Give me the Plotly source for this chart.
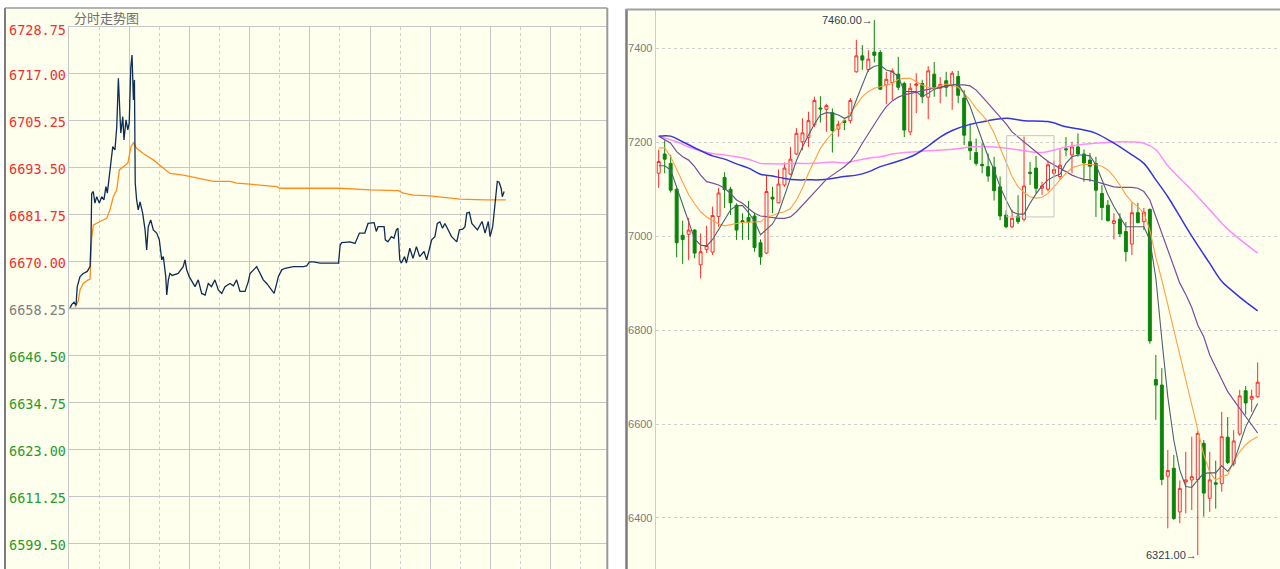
import plotly.graph_objects as go

W, H = 1280, 569

# ---------------- left panel: intraday (分时走势图) ----------------
minute = [0.5, 1.3, 2.5, 3.5, 4.1, 5.5, 7.1, 9.1, 10.5, 10.95,
          11.3, 12.1, 12.9, 13.8, 15.1, 16.3, 17.4, 18.4, 19.1, 20.4,
          21.8, 22.9, 23.8, 24.6, 25.1, 25.8, 26.8, 27.4, 28.4, 29.3,
          30.0, 30.8, 31.4, 32.1, 32.6, 33.0, 33.7, 34.5, 35.4, 36.7,
          37.9, 38.7, 39.5, 40.7, 42.0, 43.7, 45.0, 46.2, 47.0, 48.2,
          48.7, 49.5, 50.3, 51.4, 54.4, 56.9, 57.8, 58.6, 59.9, 61.6,
          62.8, 64.4, 66.1, 67.8, 69.4, 71.0, 72.7, 74.4, 76.1, 77.7,
          80.2, 81.9, 83.5, 85.2, 87.7, 89.3, 90.2, 93.5, 95.2, 96.8,
          98.5, 101.0, 102.2, 103.5, 104.3, 106.0, 107.6, 111.8, 116.8, 118.4,
          119.8, 121.8, 125.1, 128.4, 132.6, 134.3, 135.1, 135.9, 140.0, 142.5,
          144.7, 147.4, 149.0, 152.0, 153.1, 154.0, 157.0, 157.6, 158.9, 160.6,
          161.9, 163.1, 163.9, 164.8, 165.6, 167.2, 168.1, 169.8, 171.4, 173.1,
          174.7, 176.9, 178.2, 179.9, 180.7, 182.3, 183.5, 184.8, 186.1, 187.3,
          189.0, 190.6, 193.2, 194.5, 196.2, 197.3, 198.2, 199.5, 200.7, 202.3,
          203.5, 205.8, 207.3, 208.9, 209.8, 211.1, 211.8, 212.6, 213.4, 214.3,
          215.3, 215.9, 216.8]
price = [6658.3, 6659.2, 6659.8, 6659.0, 6663.7, 6666.2, 6667.0, 6667.5, 6668.7, 6675.4,
         6687.0, 6687.5, 6684.6, 6686.2, 6684.6, 6686.2, 6685.4, 6688.7, 6687.1, 6692.0,
         6698.7, 6697.9, 6703.7, 6715.8, 6710.4, 6702.1, 6706.2, 6700.4, 6705.4, 6702.9,
         6704.6, 6718.7, 6721.6, 6710.4, 6715.4, 6689.6, 6685.4, 6682.9, 6684.9, 6682.1,
         6677.9, 6672.9, 6678.7, 6680.4, 6677.9, 6677.1, 6675.4, 6670.4, 6671.2, 6666.2,
         6661.6, 6665.4, 6667.0, 6666.5, 6667.0, 6668.7, 6670.4, 6668.0, 6666.2, 6664.5,
         6663.7, 6665.4, 6662.0, 6661.6, 6664.5, 6663.7, 6665.4, 6662.9, 6662.0, 6663.7,
         6664.5, 6663.9, 6665.4, 6662.5, 6662.5, 6664.9, 6667.0, 6668.7, 6667.0, 6665.4,
         6664.5, 6662.9, 6662.0, 6664.5, 6666.2, 6667.9, 6668.3, 6668.7, 6668.7, 6668.9,
         6669.9, 6669.9, 6669.6, 6669.6, 6669.6, 6669.6, 6674.1, 6674.7, 6674.9, 6674.5,
         6677.1, 6677.1, 6679.5, 6679.7, 6677.5, 6678.7, 6678.7, 6675.4, 6674.9, 6676.2,
         6675.8, 6677.9, 6678.3, 6670.4, 6669.6, 6671.2, 6669.6, 6673.3, 6670.8, 6673.7,
         6671.2, 6672.5, 6670.4, 6673.7, 6675.4, 6676.2, 6679.5, 6679.9, 6678.3, 6679.5,
         6677.9, 6676.2, 6674.9, 6677.9, 6678.1, 6678.7, 6682.1, 6682.3, 6679.5, 6678.7,
         6677.9, 6680.0, 6677.1, 6680.0, 6676.2, 6678.7, 6682.1, 6687.1, 6690.0, 6689.8,
         6688.3, 6686.2, 6687.5]
avg_minute = [3.0, 4.6, 5.5, 7.1, 9.6, 10.5, 11.3, 12.1, 15.4, 18.8,
              20.4, 22.1, 23.8, 25.1, 27.1, 29.3, 30.9, 32.1, 33.7, 37.0,
              42.0, 46.2, 50.3, 57.0, 65.3, 71.9, 80.2, 83.6, 95.2, 103.5,
              105.1, 125.1, 135.1, 149.9, 164.1, 166.6, 171.6, 179.9, 186.5, 194.8,
              207.3, 217.6]
avg_price = [6658.5, 6660.1, 6662.9, 6664.5, 6665.4, 6665.6, 6675.8, 6679.1, 6680.0, 6680.8,
             6682.9, 6686.2, 6687.9, 6692.9, 6693.7, 6694.6, 6698.7, 6699.7, 6698.3, 6697.0,
             6695.4, 6693.7, 6692.0, 6691.6, 6690.8, 6690.0, 6690.0, 6689.6, 6689.1, 6688.7,
             6688.3, 6688.3, 6688.3, 6687.9, 6687.7, 6687.1, 6686.6, 6686.4, 6686.0, 6685.6,
             6685.4, 6685.4]
left_ticks = [6728.75, 6717.00, 6705.25, 6693.50, 6681.75, 6670.00,
              6658.25, 6646.50, 6634.75, 6623.00, 6611.25, 6599.50]
prev_close = 6658.25
left_title = "分时走势图"

# ---------------- right panel: daily K-line ----------------
opens = [7134, 7175, 7155, 7100, 7002, 7004, 7013, 6939, 6972, 6966,
         7042, 7125, 7100, 7066, 7033, 7040, 7043, 6986, 6964, 7083,
         7071, 7109, 7132, 7175, 7201, 7210, 7237, 7273, 7270, 7263,
         7228, 7246, 7246, 7350, 7384, 7355, 7392, 7391, 7322, 7327,
         7345, 7325, 7222, 7321, 7325, 7296, 7345, 7315, 7331, 7320,
         7340, 7294, 7201, 7178, 7153, 7148, 7147, 7105, 7045, 7020,
         7043, 7036, 7136, 7145, 7102, 7100, 7134, 7127, 7186, 7173,
         7190, 7175, 7162, 7155, 7091, 7066, 7027, 7036, 7010, 6983,
         7050, 7031, 7057, 6695, 6683, 6489, 6506, 6413, 6477, 6481,
         6482, 6559, 6442, 6475, 6473, 6572, 6515, 6579, 6671, 6653,
         6658]
highs = [7184, 7204, 7173, 7102, 7033, 7039, 7015, 7006, 7022, 7063,
         7103, 7136, 7105, 7070, 7049, 7075, 7050, 6993, 7128, 7105,
         7142, 7157, 7190, 7230, 7251, 7265, 7297, 7298, 7282, 7272,
         7246, 7251, 7294, 7418, 7407, 7396, 7460, 7396, 7350, 7357,
         7382, 7329, 7326, 7347, 7333, 7362, 7371, 7339, 7350, 7352,
         7352, 7311, 7240, 7208, 7198, 7176, 7169, 7127, 7055, 7056,
         7087, 7212, 7158, 7171, 7116, 7161, 7161, 7185, 7211, 7201,
         7219, 7185, 7177, 7169, 7109, 7077, 7049, 7049, 7030, 7071,
         7071, 7060, 7059, 6747, 6719, 6545, 6534, 6480, 6541, 6573,
         6585, 6566, 6541, 6522, 6626, 6615, 6587, 6673, 6681, 6673,
         6731]
lows = [7103, 7134, 7093, 6955, 6941, 6949, 6953, 6910, 6964, 6960,
        7020, 7060, 7045, 6992, 6992, 6992, 6967, 6939, 6962, 7049,
        7070, 7105, 7130, 7173, 7183, 7190, 7232, 7242, 7222, 7178,
        7212, 7226, 7240, 7348, 7354, 7350, 7370, 7311, 7281, 7290,
        7311, 7211, 7215, 7262, 7283, 7249, 7297, 7283, 7297, 7269,
        7283, 7194, 7162, 7150, 7134, 7116, 7076, 7034, 7017, 7017,
        7026, 7031, 7109, 7091, 7088, 7095, 7128, 7120, 7170, 7134,
        7169, 7116, 7116, 7041, 7034, 7031, 6993, 6998, 6946, 6960,
        7027, 7013, 6771, 6609, 6470, 6378, 6396, 6389, 6410, 6417,
        6321, 6403, 6413, 6420, 6456, 6515, 6510, 6575, 6620, 6626,
        6656]
closes = [7159, 7164, 7098, 6986, 6993, 7013, 6964, 6967, 6980, 7044,
          7092, 7099, 7071, 7013, 7029, 7030, 6976, 6956, 7095, 7079,
          7111, 7145, 7164, 7219, 7220, 7246, 7289, 7271, 7278, 7225,
          7238, 7242, 7289, 7384, 7375, 7377, 7385, 7313, 7334, 7352,
          7317, 7226, 7315, 7324, 7297, 7352, 7317, 7323, 7317, 7347,
          7300, 7215, 7182, 7155, 7150, 7128, 7097, 7043, 7020, 7038,
          7031, 7107, 7134, 7102, 7107, 7152, 7142, 7151, 7184, 7190,
          7175, 7156, 7149, 7098, 7061, 7033, 7033, 7005, 6967, 7050,
          7029, 7051, 6777, 6683, 6482, 6501, 6399, 6463, 6481, 6488,
          6580, 6453, 6481, 6472, 6573, 6518, 6564, 6660, 6645, 6659,
          6689]
ma5 = [7150, 7150, 7141, 7105, 7070, 7034, 6994, 6981, 6979, 6993,
       7015, 7034, 7056, 7065, 7065, 7050, 7032, 7003, 7015, 7026,
       7049, 7084, 7123, 7161, 7190, 7215, 7239, 7258, 7263, 7262,
       7258, 7251, 7256, 7290, 7322, 7354, 7362, 7364, 7354, 7350,
       7340, 7308, 7308, 7308, 7297, 7304, 7313, 7317, 7320, 7322,
       7324, 7304, 7276, 7240, 7205, 7169, 7141, 7105, 7077, 7052,
       7047, 7047, 7070, 7090, 7107, 7120, 7127, 7132, 7155, 7169,
       7173, 7173, 7171, 7152, 7120, 7088, 7063, 7041, 7020, 7020,
       7020, 7020, 6992, 6911, 6781, 6658, 6566, 6502, 6467, 6465,
       6481, 6495, 6496, 6496, 6511, 6499, 6518, 6555, 6594, 6619,
       6644]
ma10 = [7188, 7188, 7169, 7141, 7114, 7088, 7069, 7052, 7041, 7033,
        7026, 7022, 7025, 7027, 7029, 7030, 7030, 7031, 7040, 7045,
        7049, 7052, 7059, 7077, 7102, 7134, 7162, 7187, 7205, 7219,
        7233, 7247, 7262, 7279, 7297, 7308, 7315, 7318, 7322, 7325,
        7334, 7336, 7336, 7329, 7322, 7317, 7315, 7320, 7324, 7322,
        7317, 7304, 7290, 7272, 7258, 7244, 7219, 7187, 7155, 7127,
        7105, 7093, 7084, 7081, 7083, 7091, 7105, 7120, 7134, 7145,
        7150, 7153, 7152, 7152, 7149, 7141, 7127, 7109, 7088, 7073,
        7063, 7049, 7013, 6955, 6907, 6853, 6800, 6747, 6694, 6640,
        6588, 6535, 6498, 6481, 6488, 6492, 6520, 6541, 6556, 6566,
        6573]
ma20 = [7213, 7206, 7198, 7180, 7169, 7162, 7148, 7130, 7116, 7113,
        7109, 7102, 7091, 7077, 7070, 7059, 7049, 7043, 7041, 7040,
        7038, 7038, 7041, 7052, 7066, 7081, 7095, 7109, 7121, 7130,
        7139, 7148, 7159, 7176, 7198, 7219, 7240, 7258, 7276, 7288,
        7296, 7301, 7304, 7306, 7310, 7313, 7315, 7318, 7319, 7322,
        7322, 7322, 7320, 7311, 7297, 7283, 7269, 7254, 7239, 7222,
        7211, 7201, 7190, 7180, 7169, 7159, 7152, 7145, 7137, 7130,
        7125, 7121, 7120, 7116, 7113, 7109, 7105, 7104, 7104, 7104,
        7102, 7095, 7077, 7041, 7006, 6971, 6935, 6900, 6876, 6848,
        6811, 6786, 6747, 6722, 6694, 6669, 6651, 6634, 6615, 6598,
        6581]
ma60_idx = [0, 2, 4, 7, 9, 11, 13, 15, 17, 19, 21, 23, 25, 27, 29, 31, 33, 35, 37, 39,
            41, 43, 45, 47, 49, 52, 55, 58, 61, 65, 68, 71, 73, 76, 79, 81, 83, 85, 87, 89,
            92, 94, 96, 98, 100]
ma60 = [7213, 7213, 7201, 7182, 7171, 7164, 7154, 7145, 7132, 7128, 7123, 7120, 7120, 7120,
        7123, 7127, 7130, 7137, 7148, 7156, 7164, 7175, 7192, 7211, 7225, 7238, 7246, 7251,
        7246, 7244, 7233, 7226, 7219, 7198, 7173, 7155, 7120, 7084, 7042, 7000, 6942, 6904,
        6881, 6860, 6841]
ma120_idx = [0, 3, 5, 7, 9, 11, 13, 15, 17, 19, 21, 23, 25, 27, 29, 31, 33, 35, 37, 39,
             41, 43, 45, 49, 52, 56, 60, 64, 68, 71, 74, 77, 81, 83, 85, 89, 92, 95, 100]
ma120 = [7213, 7201, 7190, 7182, 7176, 7173, 7169, 7164, 7155, 7154, 7154, 7155, 7155, 7156,
         7158, 7156, 7161, 7166, 7169, 7175, 7178, 7180, 7182, 7185, 7190, 7190, 7184, 7178,
         7190, 7196, 7199, 7201, 7198, 7184, 7150, 7098, 7056, 7015, 6964]
right_ticks = [6400, 6600, 6800, 7000, 7200, 7400]
box_idx = [58.1, 66.0]
box_price = [7041, 7214]
high_mark = (36, 7460.00)
low_mark = (90, 6321.00)

# ---------------- styling ----------------
BG = "#ffffee"
GRID = "#c6c6c6"


def px(x):
    return x / W


def py(y):
    return 1 - y / H


candle_x = list(range(len(opens)))

fig = go.Figure()

fig.add_trace(go.Scatter(x=avg_minute, y=avg_price, mode="lines",
                         line=dict(color="#ff8c1a", width=1.3),
                         xaxis="x", yaxis="y", hoverinfo="skip"))
fig.add_trace(go.Scatter(x=minute, y=price, mode="lines",
                         line=dict(color="#0f2d52", width=1.3),
                         xaxis="x", yaxis="y"))

fig.add_trace(go.Candlestick(
    x=candle_x, open=opens, high=highs, low=lows, close=closes,
    xaxis="x2", yaxis="y2",
    increasing=dict(line=dict(color="#ff2a2a", width=1), fillcolor=BG),
    decreasing=dict(line=dict(color="#0a850a", width=1), fillcolor="#0a850a"),
    whiskerwidth=0,
))
fig.add_trace(go.Scatter(x=ma120_idx, y=ma120, mode="lines", line=dict(color="#ff8cff", width=1.5, shape="spline"),
                         xaxis="x2", yaxis="y2"))
fig.add_trace(go.Scatter(x=ma60_idx, y=ma60, mode="lines", line=dict(color="#3535e0", width=1.5, shape="spline"),
                         xaxis="x2", yaxis="y2"))
fig.add_trace(go.Scatter(x=candle_x, y=ma20, mode="lines", line=dict(color="#7a4d9e", width=1.2),
                         xaxis="x2", yaxis="y2"))
fig.add_trace(go.Scatter(x=candle_x, y=ma10, mode="lines", line=dict(color="#ffa043", width=1.1),
                         xaxis="x2", yaxis="y2"))
fig.add_trace(go.Scatter(x=candle_x, y=ma5, mode="lines", line=dict(color="#4c6276", width=1.1),
                         xaxis="x2", yaxis="y2"))

shapes = [
    # panel backgrounds
    dict(type="rect", xref="paper", yref="paper", x0=px(5), x1=px(607.3), y0=0, y1=py(8),
         fillcolor=BG, line=dict(width=0), layer="below"),
    dict(type="rect", xref="paper", yref="paper", x0=px(626), x1=1, y0=0, y1=py(9),
         fillcolor=BG, line=dict(width=0), layer="below"),
    # previous close line
    dict(type="line", xref="x", yref="y", x0=0, x1=268.2, y0=prev_close, y1=prev_close,
         line=dict(color="#a9a9a9", width=1.6)),
    # selection box on the K-line chart
    dict(type="rect", xref="x2", yref="y2", x0=box_idx[0], x1=box_idx[1], y0=box_price[0], y1=box_price[1],
         line=dict(color="#c4c4c4", width=1)),
    # borders
    dict(type="line", xref="paper", yref="paper", x0=px(5), x1=px(5), y0=0, y1=py(8),
         line=dict(color="#7c7c7c", width=2)),
    dict(type="line", xref="paper", yref="paper", x0=px(5), x1=px(607.3), y0=py(8), y1=py(8),
         line=dict(color="#9a9a9a", width=1.5)),
    dict(type="line", xref="paper", yref="paper", x0=px(607.3), x1=px(607.3), y0=0, y1=py(8),
         line=dict(color="#9a9a9a", width=2)),
    dict(type="line", xref="paper", yref="paper", x0=px(626.5), x1=px(626.5), y0=0, y1=py(9),
         line=dict(color="#7c7c7c", width=2.5)),
    dict(type="line", xref="paper", yref="paper", x0=px(626), x1=1, y0=py(9.5), y1=py(9.5),
         line=dict(color="#a0a0a0", width=2)),
]

annotations = [
    dict(text=left_title, xref="paper", yref="paper", x=px(72), y=py(17.5),
         xanchor="left", yanchor="middle", showarrow=False,
         font=dict(family="Noto Sans CJK SC", size=13, color="#707070")),
]
for v in left_ticks:
    if v > prev_close:
        col = "#f03030"
    elif v < prev_close:
        col = "#2a9a2a"
    else:
        col = "#808080"
    annotations.append(dict(
        text=f"{v:.2f}", xref="paper", yref="y", x=px(67.5), y=v,
        xanchor="right", yanchor="middle", showarrow=False,
        yshift=-3.5 if v == left_ticks[0] else -1.5,
        font=dict(family="DejaVu Sans Mono", size=13.5, color=col)))

for (ix, val) in (high_mark, low_mark):
    annotations.append(dict(
        text=f"{val:.2f}→", xref="x2", yref="y2", x=ix, y=val,
        xanchor="right", yanchor="middle", showarrow=False, xshift=1,
        font=dict(family="Liberation Sans Narrow, Arial Narrow, sans-serif", size=11, color="#2a3f5a")))

fig.update_layout(
    width=W, height=H,
    margin=dict(l=0, r=0, t=0, b=0),
    paper_bgcolor="white", plot_bgcolor=BG,
    showlegend=False,
    shapes=shapes, annotations=annotations,
    xaxis=dict(domain=[px(69), px(607.3)], range=[0, 268.2], anchor="y",
               tick0=0, dtick=30, showgrid=True, gridcolor=GRID, gridwidth=1,
               minor=dict(tick0=0, dtick=15, showgrid=True, gridcolor="#cfcfcf", griddash="dot", gridwidth=1),
               showticklabels=False, ticks="", zeroline=False,
               showline=True, mirror=True, linecolor=GRID, linewidth=1),
    yaxis=dict(domain=[0, py(26.5)], range=[6593.1, 6728.75], anchor="x",
               tickvals=left_ticks, showticklabels=False, ticks="",
               showgrid=True, gridcolor=GRID, gridwidth=1, zeroline=False,
               showline=True, linecolor=GRID, linewidth=1),
    xaxis2=dict(domain=[px(655.7), 1], range=[-0.5, 103.73], anchor="y2",
                showgrid=False, showticklabels=False, ticks="", zeroline=False,
                rangeslider=dict(visible=False)),
    yaxis2=dict(domain=[0, py(9)], range=[6291.4, 7483.7], anchor="x2",
                tickvals=right_ticks, ticktext=[str(t) for t in right_ticks],
                tickfont=dict(family="Liberation Sans Narrow, Arial Narrow, sans-serif", size=11, color="#7a7a7a"),
                ticks="", showgrid=True, gridcolor="#cfcfcf", griddash="dot", gridwidth=1,
                zeroline=False, showline=True, linecolor="#cccccc", linewidth=1),
)

fig.write_html("out.html", config={"displayModeBar": False},
               post_script="document.body.style.margin='0';document.body.style.overflow='hidden';")
